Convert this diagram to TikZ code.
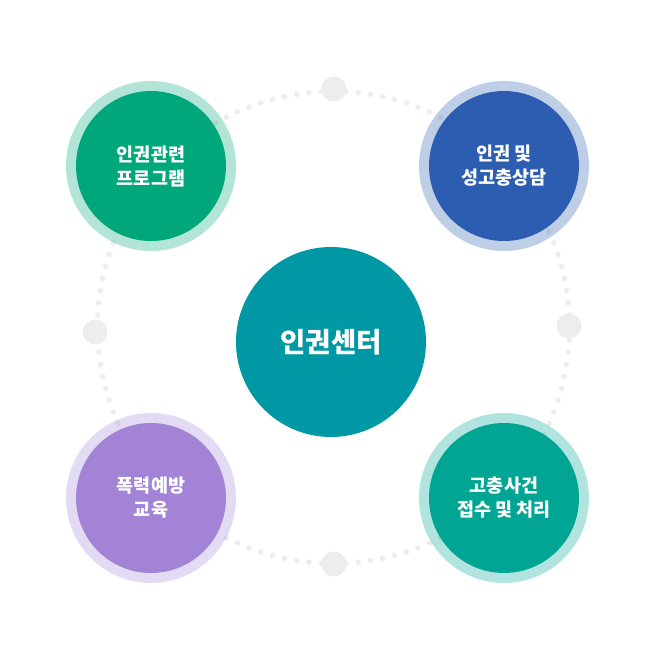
\documentclass[tikz,border=0pt]{standalone}
\usepackage{fontspec}
\newfontfamily\kr{Noto Sans CJK KR}
\usepackage{tikz}

\definecolor{progGreen}{HTML}{00A77A}
\definecolor{counselBlue}{HTML}{2C5DB1}
\definecolor{eduPurple}{HTML}{A283D6}
\definecolor{caseTeal}{HTML}{00A594}
\definecolor{centerTeal}{HTML}{0098A5}
\definecolor{dotGray}{HTML}{EDEDED}

\tikzset{
  ring/.style={circle, inner sep=0pt, minimum size=170pt, fill opacity=0.3},
  topic/.style={circle, inner sep=0pt, minimum size=150pt, text=white, align=center,
    font=\kr\bfseries\fontsize{18.5}{24}\selectfont},
}

\begin{document}
\begin{tikzpicture}[x=1pt, y=-1pt]
  \useasboundingbox (0,0) rectangle (667,655);

  % dotted orbit
  \foreach \a in {0,3,...,357}
    \fill[dotGray] ({333.5+236*cos(\a)},{327.5+236*sin(\a)}) circle (2.8);

  \node[circle, fill=dotGray, minimum size=25pt, inner sep=0pt] (dtop) at (334,89) {};
  \node[circle, fill=dotGray, minimum size=25pt, inner sep=0pt] (dright) at (569,326) {};
  \node[circle, fill=dotGray, minimum size=25pt, inner sep=0pt] (dbottom) at (334,564) {};
  \node[circle, fill=dotGray, minimum size=25pt, inner sep=0pt] (dleft) at (95,332) {};

  \node[ring, fill=progGreen] (progring) at (151,166) {};
  \node[topic, fill=progGreen] (prog) at (151,166) {인권관련\\프로그램};

  \node[ring, fill=counselBlue] (counselring) at (504,166) {};
  \node[topic, fill=counselBlue] (counsel) at (504,166) {인권 및\\성고충상담};

  \node[ring, fill=eduPurple] (edurring) at (151,498) {};
  \node[topic, fill=eduPurple] (edu) at (151,498) {폭력예방\\교육};

  \node[ring, fill=caseTeal] (casering) at (504,498) {};
  \node[topic, fill=caseTeal] (case) at (504,498) {고충사건\\접수 및 처리};

  \node[circle, fill=centerTeal, minimum size=190pt, inner sep=0pt, text=white,
    font=\kr\bfseries\fontsize{27.5}{30}\selectfont] (center) at (331,342) {인권센터};
\end{tikzpicture}
\end{document}
